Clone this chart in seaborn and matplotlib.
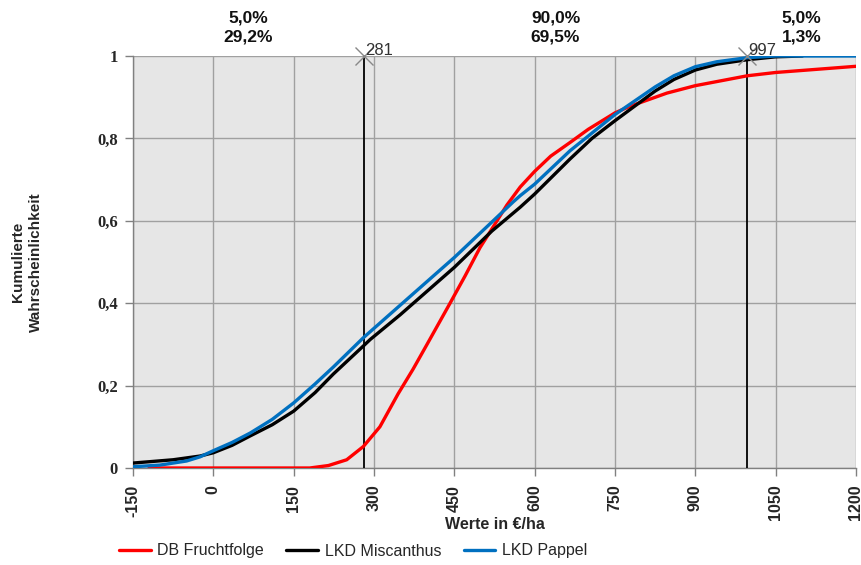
import numpy as np
import pandas as pd
import matplotlib
matplotlib.use("Agg")
import matplotlib.pyplot as plt
from matplotlib.ticker import FuncFormatter
import seaborn as sns

# ---- data ----
red_x = [-120, 180, 215, 249, 280, 311, 345, 373, 399, 442, 470, 498, 520, 548, 573,
         600, 630, 666, 700, 750, 778, 847, 900, 997, 1050, 1200]
red_y = [0, 0, 0.006, 0.02, 0.052, 0.10, 0.18, 0.24, 0.30, 0.40, 0.466, 0.535, 0.58,
         0.638, 0.682, 0.72, 0.757, 0.79, 0.822, 0.862, 0.878, 0.91, 0.928, 0.952,
         0.96, 0.975]

black_x = [-150, -75, -25, 0, 35, 69, 110, 150, 190, 224, 280, 293, 349, 450, 520, 573,
           600, 666, 707, 750, 825, 860, 900, 940, 997, 1050, 1100]
black_y = [0.012, 0.02, 0.029, 0.037, 0.055, 0.078, 0.105, 0.138, 0.183, 0.228, 0.296,
           0.312, 0.372, 0.487, 0.575, 0.633, 0.665, 0.75, 0.8, 0.843, 0.915, 0.943,
           0.966, 0.98, 0.991, 0.998, 1.0]

blue_x = [-150, -100, -50, -25, 0, 35, 69, 110, 150, 190, 224, 280, 293, 450, 560, 573,
          600, 666, 750, 825, 860, 900, 940, 997, 1050, 1200]
blue_y = [0.003, 0.007, 0.017, 0.027, 0.042, 0.062, 0.085, 0.118, 0.158, 0.204, 0.245,
          0.316, 0.331, 0.511, 0.646, 0.661, 0.689, 0.77, 0.858, 0.925, 0.952, 0.974,
          0.986, 0.996, 1.0, 1.0]

series_names = ["DB Fruchtfolge", "LKD Miscanthus", "LKD Pappel"]
series_colors = ["#ff0000", "#000000", "#0070c0"]

marker_x = [281, 997]
marker_labels = ["281", "997"]
pct_x = [65.5, 639, 1098.5]
pct_top = ["5,0%", "90,0%", "5,0%"]
pct_bottom = ["29,2%", "69,5%", "1,3%"]

x_ticks = [-150, 0, 150, 300, 450, 600, 750, 900, 1050, 1200]
y_ticks = [0, 0.2, 0.4, 0.6, 0.8, 1.0]

df = pd.concat([
    pd.DataFrame({"x": red_x, "y": red_y, "s": series_names[0]}),
    pd.DataFrame({"x": black_x, "y": black_y, "s": series_names[1]}),
    pd.DataFrame({"x": blue_x, "y": blue_y, "s": series_names[2]}),
], ignore_index=True)

sns.set_theme(style="white")
plt.rcParams["font.family"] = ["Liberation Sans", "DejaVu Sans"]

fig = plt.figure(figsize=(8.62, 5.65), dpi=100)
ax = fig.add_axes([133 / 862, 1 - 468 / 565, (856 - 133) / 862, (468 - 56) / 565])
ax.set_facecolor("#e6e6e6")

ax.set_xlim(-150, 1200)
ax.set_ylim(0, 1)
ax.set_xticks(x_ticks)
ax.set_yticks(y_ticks)
ax.grid(True, color="#a0a0a0", linewidth=1.0)
ax.set_axisbelow(True)

# vertical delimiter lines
for mx in marker_x:
    ax.plot([mx, mx], [0, 1], color="#000000", linewidth=1.3, zorder=3)

sns.lineplot(data=df, x="x", y="y", hue="s", palette=series_colors,
             hue_order=series_names, estimator=None, sort=False,
             linewidth=2.4, ax=ax, zorder=4, legend=True)

for mx, lab in zip(marker_x, marker_labels):
    ax.plot([mx], [1.0], marker="x", markersize=13, color="#888888",
            markeredgewidth=1.0, clip_on=False, zorder=5)
    ax.text(mx + 2, 0.995, lab, fontsize=12, color="#333333", ha="left",
            va="bottom", zorder=6)

trans = ax.get_xaxis_transform()
for px, t1, t2 in zip(pct_x, pct_top, pct_bottom):
    ax.text(px, 1.093, t1, transform=trans, ha="center", va="center",
            fontsize=12.5, fontweight="bold", color="#111111")
    ax.text(px, 1.047, t2, transform=trans, ha="center", va="center",
            fontsize=12.5, fontweight="bold", color="#111111")

ax.yaxis.set_major_formatter(FuncFormatter(
    lambda v, p: "0" if v == 0 else ("1" if v == 1 else f"{v:.1f}".replace(".", ","))))
ax.xaxis.set_major_formatter(FuncFormatter(lambda v, p: f"{int(v)}"))

for lbl in ax.get_xticklabels():
    lbl.set_rotation(90)
    lbl.set_fontweight("bold")
    lbl.set_fontsize(11.5)
for lbl in ax.get_yticklabels():
    lbl.set_fontfamily(["Liberation Serif", "DejaVu Serif"])
    lbl.set_fontweight("bold")
    lbl.set_fontsize(12)

ax.tick_params(axis="both", which="both", direction="out", length=6, width=1,
               color="#808080", bottom=True, left=True, pad=5)
ax.tick_params(axis="x", pad=6)

for side in ["top", "right"]:
    ax.spines[side].set_visible(False)
for side in ["left", "bottom"]:
    ax.spines[side].set_color("#808080")
    ax.spines[side].set_linewidth(1.0)

ax.set_xlabel("Werte in €/ha", fontsize=11.5, fontweight="bold")
ax.xaxis.set_label_coords(0.5, -0.12)
ax.set_ylabel("")
fig.text(27 / 862, 1 - 262 / 565, "Kumulierte\nWahrscheinlichkeit", rotation=90,
         ha="center", va="center", multialignment="center", linespacing=1.45,
         fontsize=11, fontweight="bold")

handles, labels = ax.get_legend_handles_labels()
ax.get_legend().remove()
fig.legend(handles, labels, loc="center", bbox_to_anchor=(353 / 862, 1 - 551 / 565),
           ncol=3, frameon=False, fontsize=11.5, handlelength=2.0, columnspacing=1.4,
           handletextpad=0.4)

fig.savefig("out.png", dpi=100)
